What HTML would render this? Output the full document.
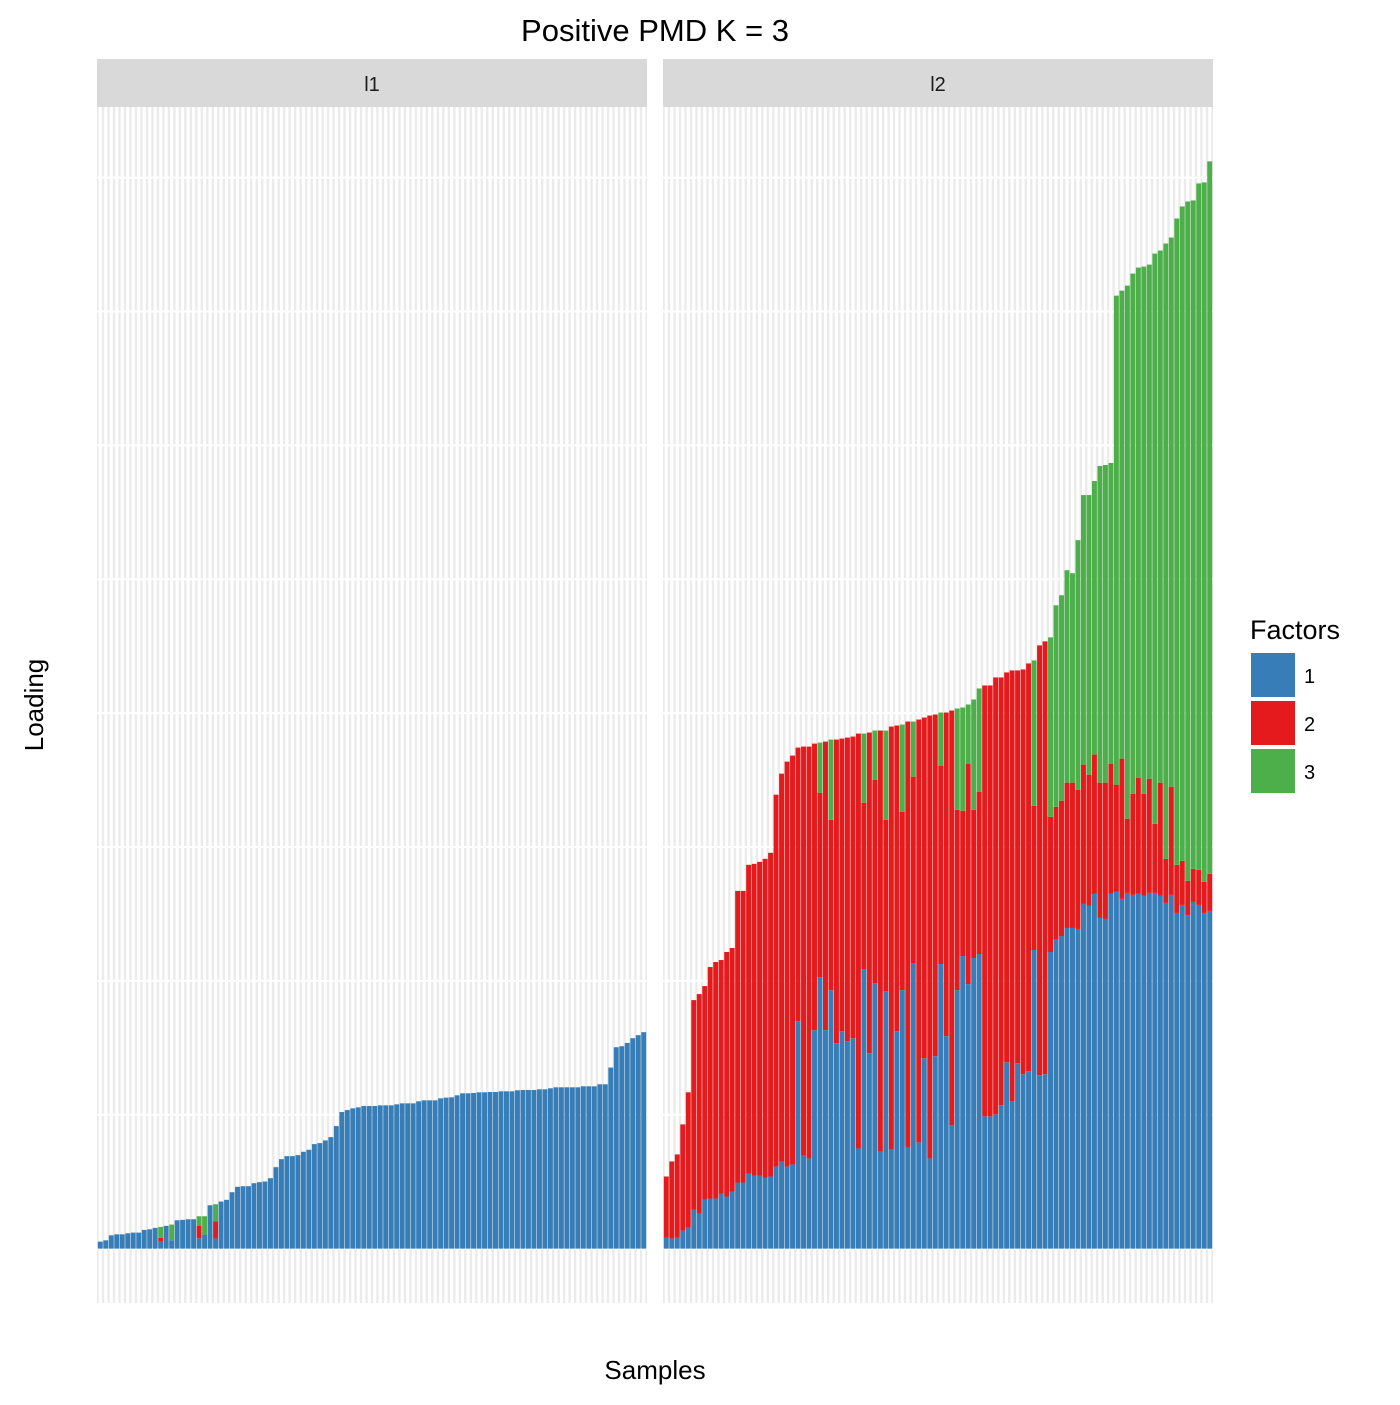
<!DOCTYPE html>
<html><head><meta charset="utf-8">
<style>
html,body{margin:0;padding:0;background:#fff;}
svg text{font-family:"Liberation Sans",Arial,sans-serif;}
</style></head>
<body>
<svg id="chart" width="1400" height="1400" viewBox="0 0 1400 1400" xmlns="http://www.w3.org/2000/svg">
<rect x="0" y="0" width="1400" height="1400" fill="#fff"/>
<text x="655" y="41" font-size="31" text-anchor="middle" fill="#000">Positive PMD K = 3</text>
<text x="655" y="1379" font-size="26" text-anchor="middle" fill="#000">Samples</text>
<text x="0" y="0" font-size="26" text-anchor="middle" fill="#000" transform="translate(43,705) rotate(-90)">Loading</text>
<g id="panels"></g>
<g>
<text x="1250" y="639" font-size="27" fill="#000">Factors</text>
<rect x="1251" y="653" width="44" height="44" fill="#377EB8"/>
<text x="1304" y="683" font-size="20" fill="#000">1</text>
<rect x="1251" y="701" width="44" height="44" fill="#E41A1C"/>
<text x="1304" y="731" font-size="20" fill="#000">2</text>
<rect x="1251" y="749" width="44" height="44" fill="#4DAF4A"/>
<text x="1304" y="779" font-size="20" fill="#000">3</text>
</g>
</svg>
<script>
const panelNames = ["l1", "l2"];
const factorNames = ["1", "2", "3"];
// l1 loadings per factor (arbitrary units)
const l1F1 = [7,8.3,13.3,14.3,14.3,15.3,16,16,18.7,19.3,20.7,7,22.7,8.3,28.3,28.7,29.3,29.3,10.3,14,43.3,10,47,48.7,56.3,61.7,62.3,62.3,65.3,66.3,67,70.3,81.3,89.3,92.3,92.3,93.3,96.7,98.7,104.3,105.3,108,111.3,122.3,136.3,138.3,140,141,142.3,142.3,142.3,143,143,143,144,145,145,145,147,148,148,148,150,150.7,151,153,155,155,155.3,156,156,156.3,156.3,157,157,157,158,158.3,158.3,158.3,159,159,160,161,161,161,161,161,162,162,162,164,164,180.7,201,202,205.3,210,213,216];
const l1F2 = [0,0,0,0,0,0,0,0,0,0,0,3.7,0,0,0,0,0,0,12.3,0,0,17.3,0,0,0,0,0,0,0,0,0,0,0,0,0,0,0,0,0,0,0,0,0,0,0,0,0,0,0,0,0,0,0,0,0,0,0,0,0,0,0,0,0,0,0,0,0,0,0,0,0,0,0,0,0,0,0,0,0,0,0,0,0,0,0,0,0,0,0,0,0,0,0,0,0,0,0,0,0,0];
const l1F3 = [0,0,0,0,0,0,0,0,0,0,0,11,0,15.7,0,0,0,0,9.7,18.3,0,17,0,0,0,0,0,0,0,0,0,0,0,0,0,0,0,0,0,0,0,0,0,0,0,0,0,0,0,0,0,0,0,0,0,0,0,0,0,0,0,0,0,0,0,0,0,0,0,0,0,0,0,0,0,0,0,0,0,0,0,0,0,0,0,0,0,0,0,0,0,0,0,0,0,0,0,0,0,0];
// l2 loadings per factor
const l2F1 = [11,10,11,18,21,39,35,49,50,50,55,52,57,66,66,75,73,73,71,72,82,87,82,84,227,93,90,218,271,218,258,205,217,207,210,100,279,195,265,97,257,99,217,258,101,285,106,190,90,192,284,212,123,258,292,264,290,294,132,132,134,143,186,147,185,174,177,298,173,174,296,309,312,320,320,319,344,342,354,330,329,354,356,349,355,353,354,352,355,355,352,345,353,335,343,333,346,343,335,337];
const l2F2 = [61,77,83,106,135,209,219,213,231,236,233,244,243,291,291,308,311,313,318,323,371,387,404,408,273,408,411,286,184,288,170,303,292,303,301,414,166,320,203,420,171,422,305,178,425,186,422,340,442,341,198,323,414,180,145,220,148,162,430,430,436,427,389,430,392,404,407,144,429,432,135,132,135,145,145,139,139,131,139,135,136,130,107,140,74,101,116,102,114,69,113,44,108,48,44,34,33,35,31,37];
const l2F3 = [0,0,0,0,0,0,0,0,0,0,0,0,0,0,0,0,0,0,0,0,0,0,0,0,0,0,0,0,50,0,80,0,0,0,0,0,69,0,49,0,89,0,0,87,0,55,0,0,0,0,53,0,0,101,103,59,110,103,0,0,0,0,0,0,0,0,0,145,0,0,179,201,205,212,209,249,269,279,273,316,317,300,488,467,532,519,509,526,513,569,531,614,548,645,653,678,667,685,698,711];
const gridValues = [0,133.6,267.2,400.8,534.4,668,801.6,935.2,1068.8];

const colors = ["#377EB8", "#E41A1C", "#4DAF4A"];
const panelSeries = [[l1F1, l1F2, l1F3], [l2F1, l2F2, l2F3]];
const NS = "http://www.w3.org/2000/svg";
const panelLeft = [97, 663], panelW = 550, plotTop = 107, plotBottom = 1303;
let maxTotal = 0;
panelSeries.forEach(s => s[0].forEach((v, i) => { maxTotal = Math.max(maxTotal, v + s[1][i] + s[2][i]); }));
const ymin = -0.05 * maxTotal, ymax = maxTotal * 1.05;
function yScale(v) { return plotBottom - (v - ymin) / (ymax - ymin) * (plotBottom - plotTop); }
const root = document.getElementById("panels");
function mk(tag, attrs) { const e = document.createElementNS(NS, tag); for (const k in attrs) e.setAttribute(k, attrs[k]); return e; }

panelNames.forEach((pn, p) => {
  const series = panelSeries[p];
  const n = series[0].length;
  const x0 = panelLeft[p];
  const unit = panelW / (n + 0.2);
  const xScale = i => x0 + (i + 1 - 0.4) * unit;
  const g = mk("g", {});
  
  
  const bg = mk("rect", { x: x0, y: plotTop, width: panelW, height: plotBottom - plotTop, fill: "#EBEBEB" });
  
  
  g.appendChild(bg);
  gridValues.forEach(v => {
    const l = mk("line", { x1: x0, x2: x0 + panelW, y1: yScale(v), y2: yScale(v), stroke: "#fff", "stroke-width": 2 });
    
    
    g.appendChild(l);
  });
  for (let i = 0; i < n; i++) {
    const l = mk("line", { x1: xScale(i), x2: xScale(i), y1: plotTop, y2: plotBottom, stroke: "#fff", "stroke-width": 3.1 });
    
    
    g.appendChild(l);
  }
  const bw = unit * 0.9;
  for (let i = 0; i < n; i++) {
    let base = 0;
    for (let f = 0; f < 3; f++) {
      const v = series[f][i];
      if (v > 0) {
        const yT = yScale(base + v), yB = yScale(base);
        const r = mk("rect", { x: xScale(i) - bw / 2, y: yT, width: bw, height: yB - yT, fill: colors[f] });
        
        
        g.appendChild(r);
      }
      base += v;
    }
  }
  const strip = mk("rect", { x: x0, y: 59, width: panelW, height: 48, fill: "#D9D9D9" });
  
  
  g.appendChild(strip);
  const st = mk("text", { x: x0 + panelW / 2, y: 91, "font-size": 20, "text-anchor": "middle", fill: "#1A1A1A" });
  st.textContent = pn;
  
  
  g.appendChild(st);
  root.appendChild(g);
});
</script>
</body></html>
